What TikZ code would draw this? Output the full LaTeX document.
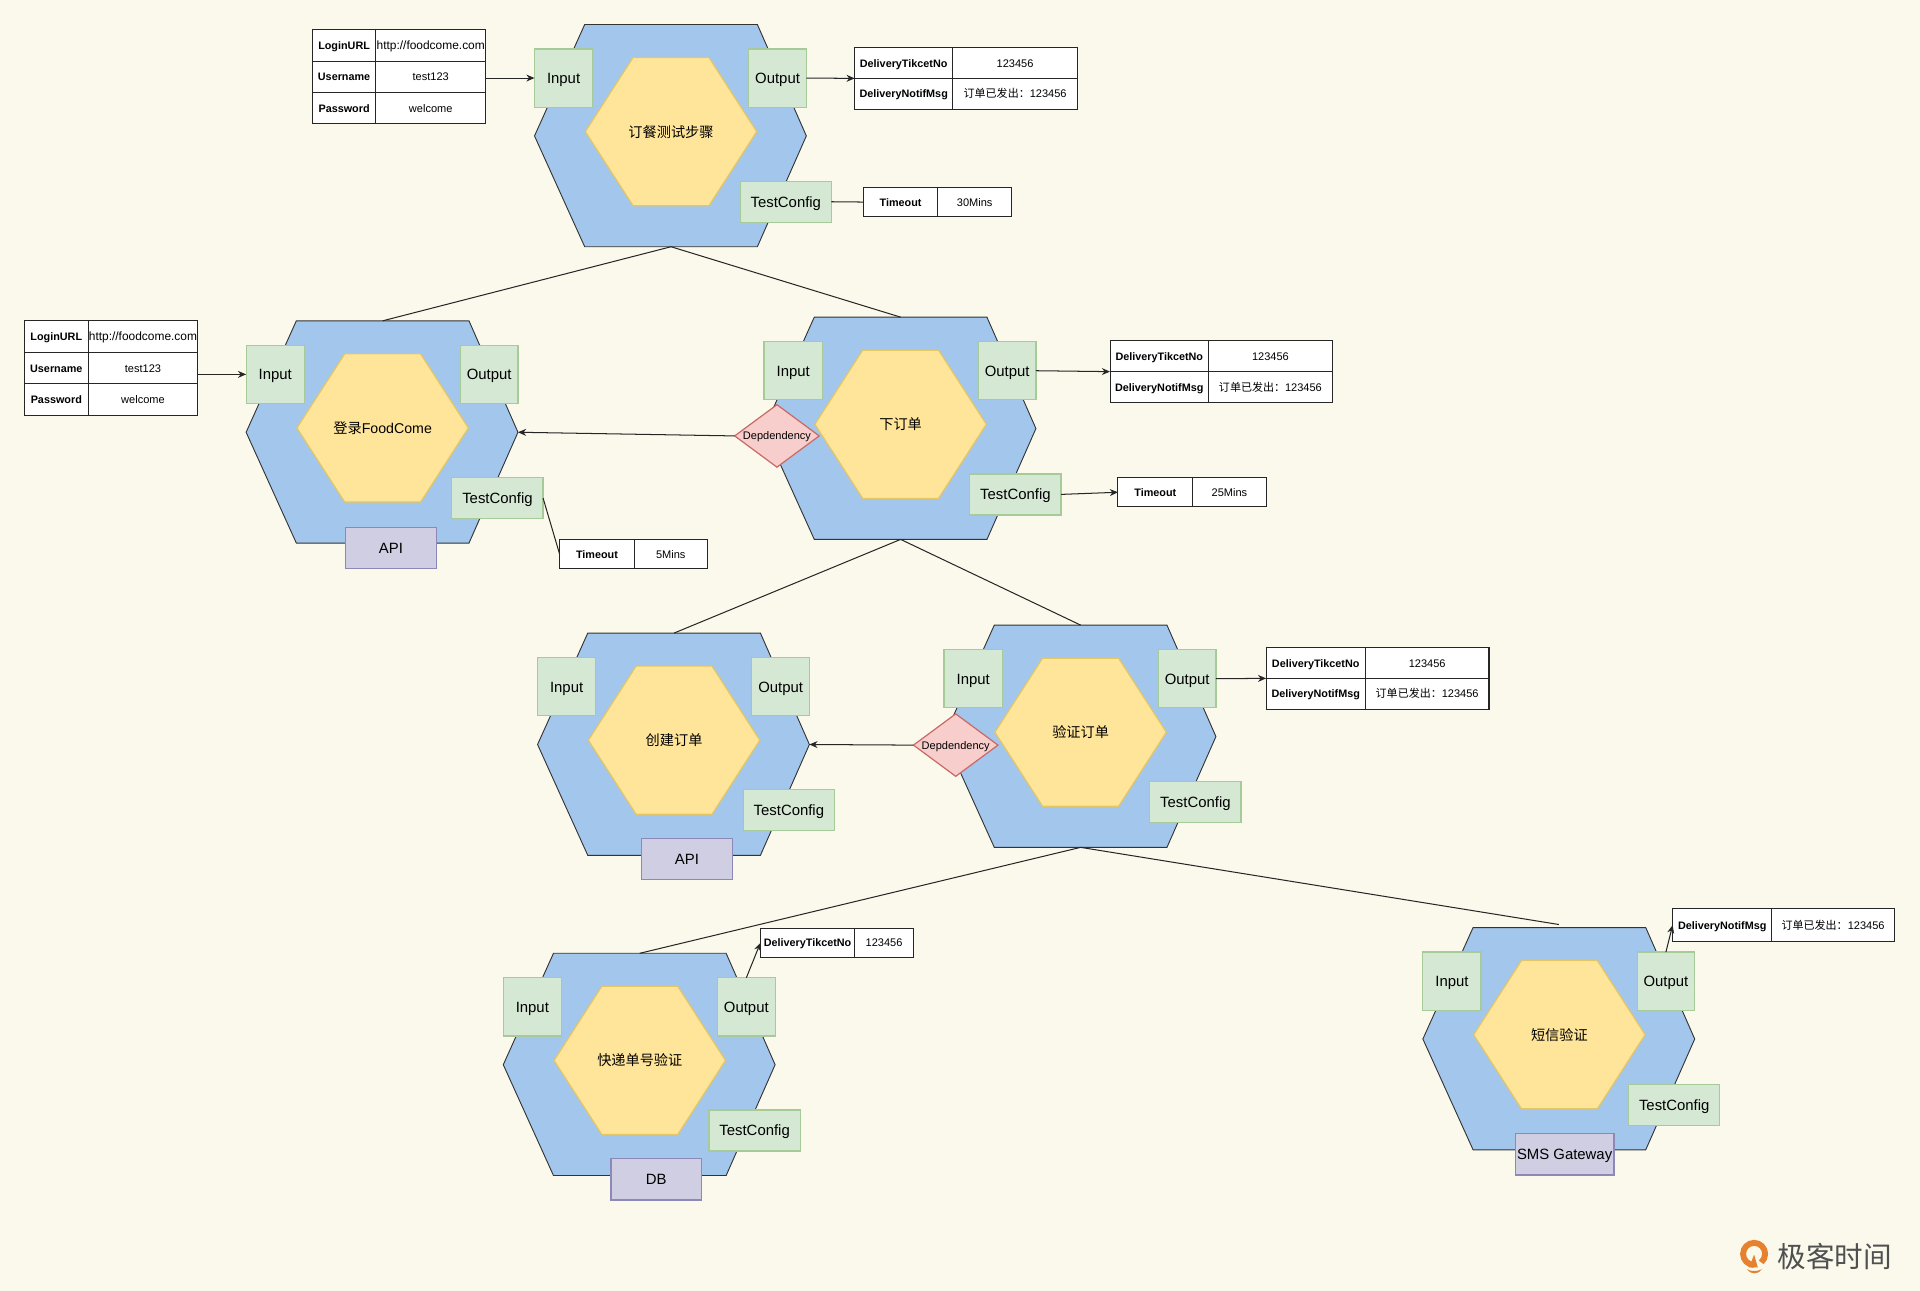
\documentclass[tikz,border=0pt]{standalone}
\usepackage{fontspec}
\setmainfont{Liberation Sans}
\newfontfamily\cjk{Noto Sans CJK SC}
\usetikzlibrary{arrows.meta,shapes.geometric}
\definecolor{bgc}{HTML}{FBF9EC}
\definecolor{hexblue}{HTML}{A3C6EC}
\definecolor{hexyel}{HTML}{FFE599}
\definecolor{hexyelline}{HTML}{E3C666}
\definecolor{grn}{HTML}{D5E8D4}
\definecolor{grnline}{HTML}{A6CB98}
\definecolor{pur}{HTML}{D0CEE2}
\definecolor{purline}{HTML}{8C88B8}
\definecolor{rd}{HTML}{F8CECC}
\definecolor{rdline}{HTML}{C96A66}
\definecolor{logoor}{HTML}{E5812F}
\definecolor{logotx}{HTML}{505050}
\tikzset{
  outerhex/.style={fill=hexblue,draw=black!80,line width=0.45pt,line join=miter},
  innerhex/.style={fill=hexyel,draw=hexyelline,line width=0.6pt},
  boxbase/.style={inner sep=0pt,outer sep=0pt,align=center},
  portbox/.style={boxbase,fill=grn,draw=grnline,line width=0.6pt,text height=5.3pt,text depth=0pt,font=\fontsize{7.3pt}{9pt}\selectfont},
  resbox/.style={boxbase,fill=pur,draw=purline,line width=0.6pt,text height=5.3pt,text depth=0pt,font=\fontsize{7.3pt}{9pt}\selectfont},
  cellkey/.style={boxbase,fill=white,draw=black!85,line width=0.5pt,text height=3.9pt,text depth=0pt,font=\fontsize{5.3pt}{7pt}\selectfont\bfseries},
  cellval/.style={boxbase,fill=white,draw=black!85,line width=0.5pt,text height=3.9pt,text depth=0pt,font=\fontsize{5.4pt}{7pt}\selectfont},
  depbox/.style={diamond,aspect=1.35,inner sep=0pt,outer sep=0pt,fill=rd,draw=rdline,line width=0.6pt,
    minimum width=41.4pt,minimum height=30.6pt,text height=3.9pt,text depth=0pt,font=\fontsize{5.4pt}{7pt}\selectfont},
  hexlabel/.style={inner sep=0pt,font=\fontsize{6.95pt}{9pt}\selectfont},
  conn/.style={draw=black!85,line width=0.5pt},
  arr/.style={conn,-{Stealth[length=4pt,width=3.4pt]}},
}
\newcommand{\bx}[7]{%
  \pgfmathsetmacro\bxcx{(#2+#4)/2}\pgfmathsetmacro\bxcy{(#3+#5)/2}%
  \pgfmathsetmacro\bxw{0.6*(#4-#2)}\pgfmathsetmacro\bxh{0.6*(#5-#3)}%
  \node[#6,minimum width=\bxw pt,minimum height=\bxh pt] (#1) at (\bxcx,\bxcy) {#7};}
\newcommand{\modul}[4]{%
  \begin{scope}[shift={(#2,#3)}]
    \draw[outerhex] (41,0) -- (182,0) -- (222,91) -- (182,181.5) -- (41,181.5) -- (0,91) -- cycle;
    \draw[innerhex] (41.5,87.5) -- (80.5,27) -- (142.5,27) -- (181.5,87.5) -- (142.5,148) -- (80.5,148) -- cycle;
    \coordinate (#1-top) at (111.5,0);
    \coordinate (#1-bot) at (111.5,181.5);
    \coordinate (#1-right) at (222,91);
    \node[hexlabel] (#1-label) at (111.5,87.5) {#4};
    \bx{#1-in}{0}{20}{47.5}{67.5}{portbox}{Input}
    \bx{#1-out}{175}{20}{222}{67.5}{portbox}{Output}
    \bx{#1-tc}{168}{128}{242.5}{161.5}{portbox}{TestConfig}
  \end{scope}}
\newcommand{\trow}[8]{%
  \bx{#1-a}{#2}{#4}{#3}{#5}{cellkey}{#7}
  \bx{#1-b}{#3}{#4}{#6}{#5}{cellval}{#8}}
\newcommand{\urlt}{{\fontsize{5.85pt}{7pt}\selectfont http://foodcome.com}}
\begin{document}
\begin{tikzpicture}[x=0.6pt,y=-0.6pt]
\fill[bgc] (0,0) rectangle (1568,1054.26);
\useasboundingbox (0,0) rectangle (1568,1054.26);

\modul{m1}{436.5}{20}{{\cjk 订餐测试步骤}}
\modul{m2}{201}{262}{{\cjk 登录}FoodCome}
\modul{m3}{624}{259}{{\cjk 下订单}}
\modul{m4}{439}{517}{{\cjk 创建订单}}
\modul{m5}{771}{510.5}{{\cjk 验证订单}}
\modul{m6}{411}{778.5}{{\cjk 快递单号验证}}
\modul{m7}{1162}{757.5}{{\cjk 短信验证}}

\bx{r2}{282}{430.5}{356.5}{464.5}{resbox}{API}
\bx{r4}{524}{685}{598}{718.5}{resbox}{API}
\bx{r6}{499}{946}{573}{980}{resbox}{DB}
\bx{r7}{1237.5}{925.5}{1318}{959.5}{resbox}{SMS Gateway}

\node[depbox] (d3) at (634.5,356) {Depdendency};
\node[depbox] (d5) at (780.5,608.5) {Depdendency};

\trow{lg1a}{255}{307}{24}{50}{396.5}{LoginURL}{\urlt}
\trow{lg1b}{255}{307}{50}{75.5}{396.5}{Username}{test123}
\trow{lg1c}{255}{307}{75.5}{101}{396.5}{Password}{welcome}
\trow{o1a}{698}{778}{39}{64}{880}{DeliveryTikcetNo}{123456}
\trow{o1b}{698}{778}{64}{89.5}{880}{DeliveryNotifMsg}{{\cjk 订单已发出：}123456}
\trow{t1}{705}{766}{153}{177}{826}{Timeout}{30Mins}

\trow{lg2a}{20}{72}{262}{288}{161.5}{LoginURL}{\urlt}
\trow{lg2b}{20}{72}{288}{313.5}{161.5}{Username}{test123}
\trow{lg2c}{20}{72}{313.5}{339}{161.5}{Password}{welcome}
\trow{t2}{457}{518}{440.5}{464.5}{577.5}{Timeout}{5Mins}

\trow{o3a}{906.5}{987}{278}{303.5}{1088}{DeliveryTikcetNo}{123456}
\trow{o3b}{906.5}{987}{303.5}{329}{1088}{DeliveryNotifMsg}{{\cjk 订单已发出：}123456}
\trow{t3}{913}{974}{390}{414}{1034}{Timeout}{25Mins}

\trow{o5a}{1034}{1115}{529}{554}{1216}{DeliveryTikcetNo}{123456}
\trow{o5b}{1034}{1115}{554}{579.5}{1216}{DeliveryNotifMsg}{{\cjk 订单已发出：}123456}

\trow{o6}{621}{698}{758}{782}{746}{DeliveryTikcetNo}{123456}
\trow{o7}{1366}{1447}{742}{769}{1547}{DeliveryNotifMsg}{{\cjk 订单已发出：}123456}

\draw[conn] (m1-bot) -- (m2-top);
\draw[conn] (m1-bot) -- (m3-top);
\draw[conn] (m3-bot) -- (m4-top);
\draw[conn] (m3-bot) -- (m5-top);
\draw[conn] (m5-bot) -- (m6-top);
\coordinate (m7-gap) at (1273,755);
\draw[conn] (m5-bot) -- (m7-gap);

\draw[arr] (lg1b-b.east |- m1-in.west) -- (m1-in.west);
\draw[arr] (m1-out.east) -- (o1a-a.south west);
\draw[conn] (m1-tc.east) -- (t1-a.west);
\draw[arr] (lg2b-b.east |- m2-in.west) -- (m2-in.west);
\draw[conn] (m2-tc.east) -- (t2-a.west);
\draw[arr] (d3.west) -- (m2-right);
\draw[arr] (m3-out.east) -- (o3a-a.south west);
\draw[arr] (m3-tc.east) -- (t3-a.west);
\draw[arr] (d5.west) -- (m4-right);
\draw[arr] (m5-out.east) -- (o5a-a.south west);
\draw[arr] (m6-out.north) -- (o6-a.west);
\draw[arr] (m7-out.north) -- (o7-a.west);

% logo
\draw[logoor,line width=2.9pt] (1432.5,1033) arc[start angle=90,end angle=410,radius=9];
\fill[logoor] (1432.5,1024.5) -- (1435.5,1035) -- (1428.5,1035) -- cycle;
\fill[logoor] (1426.5,1036.5) .. controls (1430,1038.5) and (1435,1038.5) .. (1439,1036.5) .. controls (1436,1041) and (1429.5,1041) .. (1426.5,1036.5) -- cycle;
\node[inner sep=0pt,anchor=west,text=logotx,font=\fontsize{14pt}{16pt}\selectfont\cjk] (logotext) at (1451.5,1026) {极客时间};
\end{tikzpicture}
\end{document}
